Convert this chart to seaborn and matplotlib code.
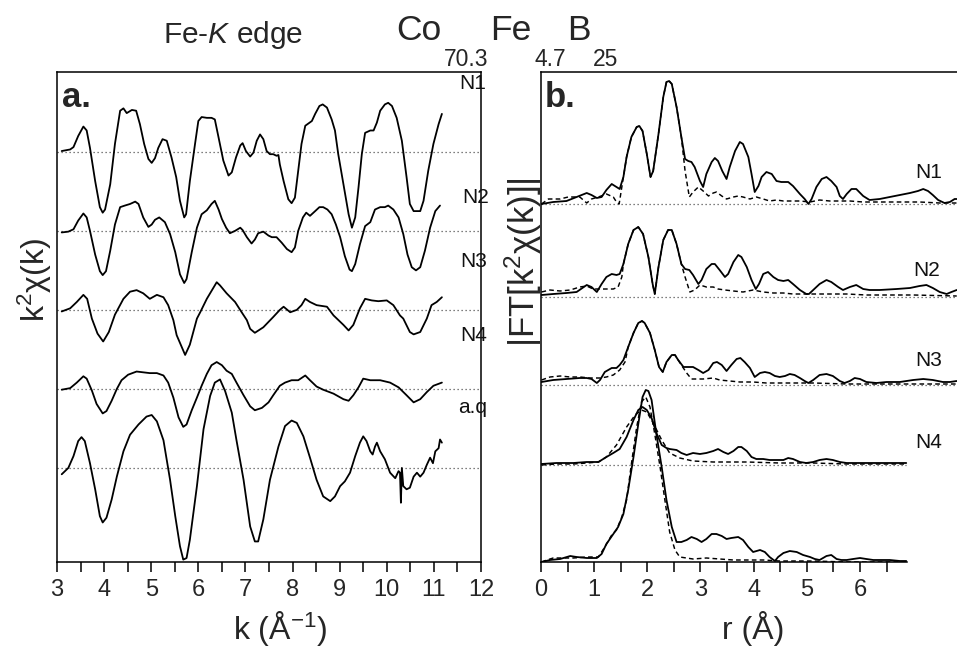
import numpy as np
import matplotlib
matplotlib.use("Agg")
import matplotlib.pyplot as plt
from matplotlib.ticker import MultipleLocator
import seaborn as sns

# ---------------- panel a: k^2 chi(k) spectra (k in 1/Angstrom, offset units) ----------------
CHI_N1 = [(3.10, 0.01), (3.28, 0.03), (3.35, 0.06), (3.45, 0.20), (3.56, 0.32), (3.63, 0.27), (3.70, 0.05),
          (3.81, -0.37), (3.91, -0.70), (3.97, -0.77), (4.02, -0.73), (4.13, -0.41), (4.23, 0.10), (4.34, 0.52),
          (4.41, 0.55), (4.48, 0.49), (4.59, 0.53), (4.68, 0.52), (4.76, 0.35), (4.85, 0.10), (4.94, -0.09),
          (5.01, -0.14), (5.08, -0.08), (5.15, 0.05), (5.24, 0.16), (5.33, 0.14), (5.43, -0.07), (5.53, -0.32),
          (5.61, -0.62), (5.70, -0.83), (5.74, -0.79), (5.82, -0.37), (5.93, 0.10), (6.00, 0.39), (6.07, 0.44),
          (6.18, 0.43), (6.28, 0.43), (6.35, 0.41), (6.43, 0.18), (6.53, -0.11), (6.64, -0.30), (6.71, -0.26),
          (6.80, -0.07), (6.89, 0.08), (6.94, 0.11), (7.01, 0.01), (7.10, -0.06), (7.17, -0.01), (7.24, 0.14),
          (7.31, 0.22), (7.38, 0.16), (7.45, 0.01), (7.52, -0.03), (7.59, -0.03), (7.66, -0.05), (7.70, -0.04),
          (7.73, -0.16), (7.81, -0.37), (7.91, -0.60), (7.98, -0.65), (8.05, -0.58), (8.12, -0.24), (8.19, 0.10),
          (8.27, 0.33), (8.34, 0.36), (8.41, 0.39), (8.48, 0.48), (8.57, 0.58), (8.64, 0.60), (8.73, 0.56),
          (8.83, 0.41), (8.90, 0.27), (8.97, -0.03), (9.08, -0.41), (9.19, -0.79), (9.26, -0.96), (9.33, -0.83),
          (9.40, -0.45), (9.47, -0.03), (9.54, 0.24), (9.65, 0.27), (9.72, 0.27), (9.79, 0.37), (9.86, 0.52),
          (9.96, 0.60), (10.03, 0.62), (10.11, 0.58), (10.21, 0.43), (10.32, 0.14), (10.42, -0.32), (10.49, -0.66),
          (10.57, -0.75), (10.71, -0.75), (10.78, -0.62), (10.88, -0.24), (10.99, 0.10), (11.10, 0.35), (11.17, 0.48)]

CHI_N2 = [(3.10, -0.02), (3.24, -0.01), (3.35, 0.02), (3.45, 0.13), (3.56, 0.22), (3.63, 0.17), (3.70, 0.00),
          (3.81, -0.30), (3.91, -0.51), (3.97, -0.56), (4.04, -0.51), (4.13, -0.25), (4.23, 0.08), (4.34, 0.30),
          (4.44, 0.32), (4.55, 0.34), (4.66, 0.37), (4.73, 0.34), (4.83, 0.17), (4.94, 0.05), (5.01, 0.08),
          (5.08, 0.14), (5.17, 0.17), (5.29, 0.11), (5.40, -0.04), (5.51, -0.27), (5.61, -0.55), (5.70, -0.66),
          (5.75, -0.61), (5.86, -0.27), (5.97, 0.04), (6.07, 0.21), (6.18, 0.26), (6.28, 0.34), (6.35, 0.38),
          (6.43, 0.27), (6.50, 0.15), (6.59, 0.04), (6.67, -0.03), (6.78, 0.00), (6.89, 0.04), (6.94, 0.01),
          (7.03, -0.08), (7.13, -0.16), (7.20, -0.11), (7.27, -0.03), (7.38, -0.01), (7.49, -0.06), (7.56, -0.08),
          (7.66, -0.08), (7.77, -0.15), (7.88, -0.23), (7.98, -0.27), (8.05, -0.21), (8.12, 0.00), (8.22, 0.17),
          (8.29, 0.23), (8.37, 0.19), (8.48, 0.25), (8.57, 0.30), (8.65, 0.30), (8.74, 0.27), (8.83, 0.21),
          (8.92, 0.08), (9.01, -0.08), (9.11, -0.32), (9.21, -0.49), (9.26, -0.51), (9.33, -0.42), (9.43, -0.17),
          (9.54, 0.06), (9.65, 0.11), (9.75, 0.27), (9.86, 0.30), (9.96, 0.30), (10.03, 0.32), (10.14, 0.27),
          (10.25, 0.17), (10.35, -0.04), (10.44, -0.30), (10.53, -0.46), (10.62, -0.50), (10.71, -0.46),
          (10.81, -0.25), (10.92, 0.04), (11.03, 0.25), (11.13, 0.32)]

CHI_N3 = [(3.10, -0.02), (3.28, 0.02), (3.42, 0.10), (3.56, 0.19), (3.64, 0.14), (3.74, -0.11), (3.86, -0.30),
          (3.98, -0.40), (4.10, -0.28), (4.23, -0.06), (4.41, 0.14), (4.55, 0.23), (4.69, 0.25), (4.83, 0.21),
          (4.97, 0.14), (5.12, 0.19), (5.26, 0.16), (5.36, 0.06), (5.47, -0.13), (5.54, -0.32), (5.72, -0.57),
          (5.82, -0.44), (5.97, -0.11), (6.04, -0.03), (6.18, 0.14), (6.39, 0.35), (6.46, 0.31), (6.60, 0.21),
          (6.78, 0.10), (6.92, -0.03), (7.03, -0.13), (7.10, -0.24), (7.20, -0.29), (7.38, -0.22), (7.59, -0.09),
          (7.73, 0.00), (7.81, 0.04), (7.95, -0.03), (8.09, 0.00), (8.19, 0.06), (8.27, 0.14), (8.37, 0.10),
          (8.51, 0.06), (8.73, 0.04), (8.87, -0.07), (8.94, -0.11), (9.08, -0.19), (9.19, -0.26), (9.29, -0.19),
          (9.43, 0.02), (9.54, 0.14), (9.68, 0.12), (9.82, 0.11), (10.00, 0.12), (10.14, 0.06), (10.28, -0.07),
          (10.35, -0.11), (10.49, -0.28), (10.57, -0.31), (10.71, -0.28), (10.85, -0.11), (10.95, 0.06),
          (11.06, 0.10), (11.17, 0.16)]

CHI_N4 = [(3.10, -0.01), (3.28, 0.01), (3.42, 0.08), (3.56, 0.16), (3.63, 0.13), (3.74, -0.02), (3.84, -0.19),
          (3.97, -0.31), (4.05, -0.28), (4.16, -0.15), (4.27, 0.00), (4.37, 0.11), (4.51, 0.18), (4.69, 0.22),
          (4.83, 0.21), (4.97, 0.20), (5.12, 0.20), (5.26, 0.17), (5.36, 0.08), (5.47, -0.11), (5.58, -0.36),
          (5.68, -0.48), (5.75, -0.45), (5.86, -0.27), (5.97, -0.11), (6.07, 0.04), (6.18, 0.19), (6.28, 0.30),
          (6.39, 0.34), (6.50, 0.30), (6.60, 0.23), (6.71, 0.19), (6.81, 0.08), (6.96, -0.08), (7.10, -0.22),
          (7.20, -0.27), (7.35, -0.24), (7.49, -0.17), (7.59, -0.08), (7.73, 0.04), (7.84, 0.08), (7.98, 0.11),
          (8.12, 0.11), (8.27, 0.17), (8.37, 0.11), (8.51, 0.03), (8.65, -0.01), (8.87, -0.06), (9.08, -0.13),
          (9.19, -0.15), (9.29, -0.08), (9.40, 0.02), (9.50, 0.13), (9.65, 0.11), (9.86, 0.11), (10.07, 0.08),
          (10.25, 0.02), (10.42, -0.08), (10.57, -0.17), (10.71, -0.13), (10.85, -0.04), (10.99, 0.04),
          (11.17, 0.08)]

CHI_AQ = [(3.10, -0.08), (3.24, 0.00), (3.35, 0.15), (3.45, 0.34), (3.52, 0.39), (3.59, 0.34), (3.70, 0.06),
          (3.81, -0.27), (3.91, -0.61), (3.97, -0.69), (4.05, -0.63), (4.16, -0.40), (4.27, -0.11), (4.41, 0.21),
          (4.55, 0.42), (4.73, 0.55), (4.90, 0.65), (5.01, 0.67), (5.12, 0.59), (5.26, 0.35), (5.40, -0.15),
          (5.51, -0.61), (5.61, -0.99), (5.68, -1.16), (5.75, -1.14), (5.82, -0.91), (5.97, -0.23), (6.11, 0.49),
          (6.25, 0.91), (6.35, 1.08), (6.46, 1.12), (6.57, 0.97), (6.71, 0.70), (6.81, 0.35), (6.96, -0.15),
          (7.10, -0.74), (7.20, -0.93), (7.27, -0.93), (7.38, -0.65), (7.52, -0.15), (7.70, 0.27), (7.84, 0.53),
          (7.98, 0.60), (8.09, 0.57), (8.23, 0.40), (8.37, 0.13), (8.51, -0.15), (8.65, -0.36), (8.80, -0.42),
          (8.90, -0.36), (9.01, -0.23), (9.11, -0.17), (9.22, -0.06), (9.33, 0.15), (9.43, 0.32), (9.50, 0.40),
          (9.57, 0.34), (9.65, 0.21), (9.70, 0.17), (9.75, 0.27), (9.79, 0.32), (9.86, 0.21), (9.96, 0.11),
          (10.07, -0.06), (10.18, -0.13), (10.25, -0.04), (10.28, -0.06), (10.30, -0.44), (10.32, 0.00),
          (10.35, -0.23), (10.42, -0.27), (10.49, -0.25), (10.57, -0.11), (10.64, -0.06), (10.71, -0.11),
          (10.78, -0.06), (10.85, 0.04), (10.92, 0.13), (10.98, 0.06), (11.03, 0.21), (11.10, 0.25),
          (11.13, 0.36), (11.17, 0.32)]

K_SERIES = ["N1", "N2", "N3", "N4", "a.q"]
K_OFFSETS = [4.0, 3.0, 2.0, 1.0, 0.0]
K_LABEL_POS = [(11.54, 4.87), (11.60, 3.42), (11.56, 2.61), (11.56, 1.68), (11.51, 0.76)]

# ---------------- panel b: |FT[k^2 chi(k)]| (r in Angstrom) ----------------
FT_N1 = [(0.01, 0.00), (0.23, 0.02), (0.48, 0.03), (0.67, 0.07), (0.86, 0.11), (0.95, 0.09), (1.05, 0.06),
         (1.14, 0.07), (1.23, 0.14), (1.33, 0.20), (1.42, 0.17), (1.48, 0.15), (1.55, 0.27), (1.61, 0.47),
         (1.70, 0.67), (1.80, 0.77), (1.85, 0.78), (1.91, 0.73), (1.99, 0.50), (2.06, 0.27), (2.11, 0.33),
         (2.21, 0.70), (2.30, 1.07), (2.36, 1.22), (2.41, 1.23), (2.46, 1.20), (2.55, 0.97), (2.64, 0.67),
         (2.71, 0.45), (2.77, 0.43), (2.83, 0.42), (2.89, 0.37), (2.99, 0.23), (3.05, 0.17), (3.11, 0.30),
         (3.21, 0.42), (3.27, 0.46), (3.33, 0.43), (3.41, 0.33), (3.49, 0.25), (3.55, 0.37), (3.65, 0.53),
         (3.74, 0.62), (3.80, 0.60), (3.90, 0.47), (3.96, 0.30), (4.02, 0.12), (4.09, 0.18), (4.15, 0.27),
         (4.24, 0.32), (4.34, 0.30), (4.43, 0.23), (4.52, 0.22), (4.65, 0.22), (4.74, 0.18), (4.87, 0.10),
         (4.96, 0.05), (5.03, 0.00), (5.09, 0.05), (5.18, 0.17), (5.28, 0.25), (5.37, 0.27), (5.46, 0.23),
         (5.56, 0.17), (5.62, 0.08), (5.68, 0.05), (5.75, 0.10), (5.84, 0.15), (5.93, 0.15), (6.06, 0.08),
         (6.18, 0.04), (6.37, 0.05), (6.56, 0.07), (6.75, 0.09), (6.94, 0.11), (7.09, 0.13), (7.19, 0.15),
         (7.28, 0.13), (7.37, 0.09), (7.47, 0.04), (7.59, 0.01), (7.69, 0.02), (7.78, 0.05), (7.82, 0.05)]
FIT_N1 = [(0.01, 0.00), (0.14, 0.05), (0.36, 0.05), (0.51, 0.07), (0.73, 0.07), (0.86, 0.01), (0.95, 0.05),
          (1.08, 0.07), (1.23, 0.10), (1.36, 0.07), (1.42, 0.02), (1.47, 0.00), (1.55, 0.27), (1.61, 0.47),
          (1.70, 0.67), (1.80, 0.77), (1.85, 0.78), (1.91, 0.73), (1.99, 0.50), (2.06, 0.27), (2.11, 0.33),
          (2.21, 0.70), (2.30, 1.07), (2.36, 1.22), (2.41, 1.23), (2.46, 1.20), (2.55, 0.97), (2.64, 0.67),
          (2.71, 0.33), (2.79, 0.07), (2.86, 0.12), (2.96, 0.17), (3.05, 0.13), (3.15, 0.08), (3.24, 0.11),
          (3.30, 0.12), (3.40, 0.08), (3.49, 0.05), (3.62, 0.07), (3.71, 0.08), (3.80, 0.07), (3.93, 0.05),
          (4.05, 0.07), (4.18, 0.05), (4.30, 0.03), (4.43, 0.04), (4.56, 0.03), (4.68, 0.03), (4.87, 0.03),
          (5.06, 0.02), (5.24, 0.04), (5.43, 0.03), (5.62, 0.03), (5.81, 0.03), (6.06, 0.02), (6.37, 0.02),
          (6.75, 0.02), (7.12, 0.02), (7.50, 0.01), (7.82, 0.01)]

FT_N2 = [(0.01, 0.02), (0.23, 0.03), (0.48, 0.04), (0.67, 0.05), (0.86, 0.12), (0.95, 0.10), (1.05, 0.05),
         (1.14, 0.13), (1.23, 0.20), (1.33, 0.23), (1.42, 0.22), (1.48, 0.23), (1.55, 0.33), (1.64, 0.53),
         (1.74, 0.67), (1.83, 0.70), (1.92, 0.63), (2.02, 0.40), (2.10, 0.13), (2.14, 0.03), (2.21, 0.30),
         (2.30, 0.57), (2.39, 0.67), (2.46, 0.67), (2.55, 0.53), (2.64, 0.33), (2.71, 0.28), (2.79, 0.27),
         (2.86, 0.22), (2.96, 0.13), (3.02, 0.17), (3.11, 0.28), (3.21, 0.33), (3.27, 0.33), (3.36, 0.27),
         (3.46, 0.20), (3.52, 0.23), (3.62, 0.35), (3.71, 0.42), (3.77, 0.40), (3.87, 0.30), (3.96, 0.17),
         (4.04, 0.08), (4.10, 0.13), (4.18, 0.23), (4.27, 0.25), (4.37, 0.20), (4.46, 0.17), (4.56, 0.16),
         (4.65, 0.17), (4.74, 0.13), (4.87, 0.07), (4.99, 0.03), (5.04, 0.03), (5.12, 0.07), (5.24, 0.13),
         (5.37, 0.17), (5.46, 0.15), (5.59, 0.10), (5.68, 0.07), (5.81, 0.10), (5.93, 0.12), (6.06, 0.08),
         (6.18, 0.07), (6.37, 0.07), (6.69, 0.08), (6.94, 0.09), (7.12, 0.11), (7.25, 0.12), (7.37, 0.09),
         (7.50, 0.05), (7.63, 0.03), (7.72, 0.05), (7.82, 0.07)]
FIT_N2 = [(0.01, 0.05), (0.17, 0.07), (0.36, 0.06), (0.55, 0.07), (0.73, 0.10), (0.86, 0.11), (0.98, 0.08),
          (1.11, 0.08), (1.23, 0.08), (1.36, 0.08), (1.45, 0.10), (1.52, 0.20), (1.55, 0.33), (1.64, 0.53),
          (1.74, 0.67), (1.83, 0.70), (1.92, 0.63), (2.02, 0.40), (2.10, 0.13), (2.14, 0.03), (2.21, 0.30),
          (2.30, 0.57), (2.39, 0.67), (2.46, 0.67), (2.55, 0.53), (2.64, 0.33), (2.71, 0.20), (2.80, 0.05),
          (2.89, 0.07), (2.99, 0.12), (3.11, 0.10), (3.24, 0.10), (3.33, 0.08), (3.46, 0.07), (3.62, 0.06),
          (3.80, 0.05), (3.99, 0.07), (4.18, 0.05), (4.37, 0.04), (4.56, 0.04), (4.74, 0.03), (4.93, 0.03),
          (5.12, 0.03), (5.37, 0.03), (5.75, 0.03), (6.12, 0.02), (6.50, 0.02), (7.00, 0.02), (7.82, 0.01)]

FT_N3 = [(0.01, 0.03), (0.23, 0.05), (0.48, 0.06), (0.73, 0.07), (0.86, 0.07), (0.95, 0.06), (1.05, 0.02),
         (1.11, 0.05), (1.20, 0.13), (1.33, 0.17), (1.42, 0.17), (1.48, 0.20), (1.55, 0.25), (1.64, 0.38),
         (1.74, 0.52), (1.83, 0.62), (1.90, 0.64), (1.95, 0.62), (2.05, 0.52), (2.14, 0.35), (2.22, 0.18),
         (2.29, 0.13), (2.36, 0.23), (2.46, 0.30), (2.52, 0.30), (2.58, 0.25), (2.68, 0.18), (2.77, 0.18),
         (2.86, 0.18), (2.96, 0.15), (3.05, 0.12), (3.15, 0.15), (3.24, 0.22), (3.31, 0.23), (3.40, 0.20),
         (3.49, 0.14), (3.58, 0.20), (3.68, 0.26), (3.75, 0.27), (3.83, 0.23), (3.93, 0.17), (4.02, 0.08),
         (4.12, 0.12), (4.21, 0.13), (4.30, 0.12), (4.40, 0.09), (4.49, 0.08), (4.59, 0.09), (4.68, 0.11),
         (4.77, 0.10), (4.87, 0.07), (4.96, 0.04), (5.03, 0.02), (5.12, 0.05), (5.24, 0.10), (5.37, 0.11),
         (5.49, 0.09), (5.62, 0.04), (5.71, 0.02), (5.81, 0.04), (5.90, 0.07), (6.00, 0.06), (6.12, 0.03),
         (6.31, 0.02), (6.50, 0.03), (6.75, 0.03), (7.00, 0.05), (7.19, 0.06), (7.37, 0.05), (7.56, 0.03),
         (7.69, 0.03), (7.82, 0.04)]
FIT_N3 = [(0.01, 0.05), (0.17, 0.08), (0.36, 0.09), (0.55, 0.08), (0.73, 0.08), (0.92, 0.07), (1.11, 0.07),
          (1.23, 0.08), (1.36, 0.10), (1.48, 0.15), (1.58, 0.23), (1.64, 0.38), (1.74, 0.52), (1.83, 0.62),
          (1.90, 0.64), (1.95, 0.62), (2.05, 0.52), (2.14, 0.35), (2.22, 0.18), (2.29, 0.13), (2.36, 0.23),
          (2.46, 0.30), (2.52, 0.30), (2.64, 0.20), (2.74, 0.12), (2.83, 0.06), (2.93, 0.06), (3.05, 0.06),
          (3.24, 0.07), (3.36, 0.05), (3.55, 0.04), (3.74, 0.03), (3.99, 0.03), (4.24, 0.02), (4.49, 0.02),
          (4.81, 0.02), (5.12, 0.02), (5.75, 0.01), (6.37, 0.01), (7.00, 0.01), (7.82, 0.01)]

FT_N4 = [(0.01, 0.01), (0.29, 0.02), (0.61, 0.02), (0.86, 0.03), (1.08, 0.03), (1.23, 0.08), (1.36, 0.12),
         (1.48, 0.16), (1.61, 0.28), (1.74, 0.45), (1.83, 0.55), (1.91, 0.58), (1.99, 0.55), (2.08, 0.47),
         (2.17, 0.32), (2.27, 0.20), (2.36, 0.17), (2.42, 0.16), (2.55, 0.15), (2.64, 0.12), (2.74, 0.10),
         (2.86, 0.12), (2.99, 0.11), (3.11, 0.12), (3.24, 0.14), (3.33, 0.16), (3.43, 0.13), (3.52, 0.11),
         (3.62, 0.14), (3.71, 0.18), (3.77, 0.18), (3.87, 0.14), (3.96, 0.08), (4.05, 0.06), (4.18, 0.06),
         (4.30, 0.05), (4.43, 0.05), (4.56, 0.05), (4.65, 0.07), (4.74, 0.06), (4.87, 0.03), (4.99, 0.02),
         (5.12, 0.03), (5.24, 0.05), (5.37, 0.06), (5.49, 0.05), (5.62, 0.03), (5.75, 0.02), (6.06, 0.02),
         (6.37, 0.02), (6.69, 0.02), (6.87, 0.02)]
FIT_N4 = [(0.01, 0.00), (0.29, 0.01), (0.61, 0.01), (0.86, 0.02), (1.08, 0.03), (1.23, 0.08), (1.42, 0.20),
          (1.61, 0.38), (1.77, 0.50), (1.89, 0.55), (1.99, 0.53), (2.11, 0.42), (2.27, 0.25), (2.42, 0.12),
          (2.61, 0.07), (2.86, 0.04), (3.24, 0.03), (3.87, 0.03), (4.49, 0.02), (5.12, 0.02), (5.75, 0.01),
          (6.87, 0.01)]

FT_AQ = [(0.01, 0.00), (0.17, 0.02), (0.36, 0.03), (0.55, 0.06), (0.67, 0.05), (0.86, 0.04), (1.05, 0.04),
         (1.14, 0.08), (1.23, 0.18), (1.36, 0.28), (1.45, 0.35), (1.55, 0.48), (1.64, 0.72), (1.74, 1.05),
         (1.83, 1.38), (1.91, 1.65), (1.97, 1.72), (2.02, 1.71), (2.08, 1.62), (2.17, 1.28), (2.27, 0.95),
         (2.36, 0.62), (2.46, 0.35), (2.55, 0.20), (2.64, 0.20), (2.74, 0.22), (2.83, 0.25), (2.93, 0.23),
         (3.02, 0.20), (3.11, 0.23), (3.21, 0.28), (3.30, 0.28), (3.40, 0.26), (3.49, 0.23), (3.58, 0.24),
         (3.71, 0.25), (3.80, 0.22), (3.90, 0.15), (3.99, 0.10), (4.12, 0.12), (4.21, 0.10), (4.30, 0.05),
         (4.40, 0.01), (4.46, 0.05), (4.56, 0.09), (4.68, 0.11), (4.81, 0.10), (4.93, 0.07), (5.06, 0.05),
         (5.15, 0.03), (5.24, 0.02), (5.37, 0.06), (5.46, 0.07), (5.56, 0.03), (5.65, 0.02), (5.75, 0.02),
         (5.87, 0.03), (6.00, 0.04), (6.12, 0.03), (6.25, 0.02), (6.37, 0.02), (6.56, 0.02), (6.75, 0.01),
         (6.87, 0.01)]
FIT_AQ = [(0.01, 0.00), (0.11, 0.02), (0.23, 0.04), (0.42, 0.04), (0.61, 0.04), (0.86, 0.05), (1.08, 0.05),
          (1.20, 0.15), (1.33, 0.27), (1.42, 0.32), (1.52, 0.45), (1.61, 0.62), (1.70, 0.98), (1.80, 1.35),
          (1.89, 1.60), (1.97, 1.65), (2.05, 1.55), (2.14, 1.28), (2.24, 0.95), (2.33, 0.62), (2.42, 0.30),
          (2.52, 0.12), (2.61, 0.05), (2.86, 0.03), (3.11, 0.04), (3.36, 0.03), (3.62, 0.02), (3.87, 0.02),
          (4.18, 0.02), (4.49, 0.01), (5.12, 0.01), (5.75, 0.00), (6.87, 0.00)]

R_SERIES = ["N1", "N2", "N3", "N4", ""]
R_OFFSETS = [3.58, 2.65, 1.77, 0.97, 0.0]
R_LABEL_POS = [(7.29, 3.89), (7.26, 2.92), (7.29, 2.01), (7.29, 1.20)]
R_AXIS_END = 6.88

K_TICKS = list(range(3, 13))
R_TICKS = list(range(0, 7))


def split(pts):
    x, y = zip(*pts)
    return np.asarray(x, float), np.asarray(y, float)


sns.set_theme(style="white")
plt.rcParams["font.family"] = ["Liberation Sans", "DejaVu Sans"]
plt.rcParams["mathtext.fontset"] = "custom"
plt.rcParams["mathtext.rm"] = "Liberation Sans"
plt.rcParams["mathtext.it"] = "Liberation Sans:italic"
plt.rcParams["mathtext.bf"] = "Liberation Sans:bold"

W, H = 957, 649
fig = plt.figure(figsize=(W / 100, H / 100), dpi=100)
fig.patch.set_facecolor("white")

ax_a = fig.add_axes([57 / W, 1 - 562 / H, 424 / W, 490 / H])
ax_b = fig.add_axes([541 / W, 1 - 562 / H, 420 / W, 490 / H])

LINE = dict(color="black", linewidth=1.3, estimator=None, sort=False, legend=False)
DOT = dict(color="#555555", linewidth=0.9, linestyle=(0, (1, 2.2)), zorder=0)

# panel a
for pts, off in zip([CHI_N1, CHI_N2, CHI_N3, CHI_N4, CHI_AQ], K_OFFSETS):
    k, chi = split(pts)
    ax_a.axhline(off, **DOT)
    sns.lineplot(x=k, y=chi + off, ax=ax_a, **LINE)
for name, (x, y) in zip(K_SERIES, K_LABEL_POS):
    ax_a.text(x, y, name, fontsize=15, ha="left", va="center", color="#111111", clip_on=False)

ax_a.set_xlim(3, 12)
ax_a.set_ylim(-1.19, 5.01)
ax_a.set_xticks(K_TICKS)
ax_a.xaxis.set_minor_locator(MultipleLocator(0.5))
ax_a.set_yticks([])
ax_a.set_xlabel("")
ax_a.set_ylabel("")

# panel b
for data, fit, off in zip([FT_N1, FT_N2, FT_N3, FT_N4, FT_AQ],
                          [FIT_N1, FIT_N2, FIT_N3, FIT_N4, FIT_AQ], R_OFFSETS):
    r, amp = split(data)
    rf, af = split(fit)
    end = r.max()
    ax_b.hlines(off, 0, end if end < 7.5 else 7.9, **DOT)
    sns.lineplot(x=rf, y=af + off, ax=ax_b, dashes=False, linestyle=(0, (3.2, 2.2)),
                 color="black", linewidth=1.05, estimator=None, sort=False, legend=False)
    sns.lineplot(x=r, y=amp + off, ax=ax_b, **LINE)
for name, (x, y) in zip(R_SERIES, R_LABEL_POS):
    ax_b.text(x, y, name, fontsize=15, ha="center", va="center", color="#111111")

ax_b.set_xlim(0, 7.9)
ax_b.set_ylim(0, 4.90)
ax_b.set_xticks(R_TICKS)
ax_b.set_xticks(np.arange(0.5, 7.0, 0.5), minor=True)
ax_b.set_yticks([])
ax_b.set_xlabel("")
ax_b.set_ylabel("")
ax_b.spines["right"].set_visible(False)
ax_b.spines["bottom"].set_bounds(0, R_AXIS_END)

for ax in (ax_a, ax_b):
    for sp in ax.spines.values():
        sp.set_color("black")
        sp.set_linewidth(1.1)
    ax.tick_params(axis="x", which="both", bottom=True, direction="out", length=7,
                   width=1.1, color="black", labelsize=17, pad=5)
    ax.set_facecolor("white")

ax_a.text(0.012, 0.929, "a.", transform=ax_a.transAxes, fontsize=25, fontweight="bold",
          ha="left", va="baseline")
ax_b.text(0.010, 0.929, "b.", transform=ax_b.transAxes, fontsize=25, fontweight="bold",
          ha="left", va="baseline")

# axis titles
fig.text(280 / W, 1 - 628 / H, r"k (Å$^{-1}$)", fontsize=23, ha="center", va="center")
fig.text(753 / W, 1 - 628 / H, "r (Å)", fontsize=23, ha="center", va="center")
fig.text(35 / W, 1 - 280 / H, r"k$^2$χ(k)", fontsize=23, ha="center", va="center", rotation=90)
fig.text(523 / W, 1 - 262 / H, r"|FT[k$^2$χ(k)]|", fontsize=25, ha="center", va="center", rotation=90)

# header
fig.text(233 / W, 1 - 43 / H, r"Fe-$\mathit{K}$ edge", fontsize=21.5, ha="center", va="baseline")
t_co = fig.text(396 / W, 1 - 40 / H, "Co", fontsize=25.5, ha="left", va="baseline")
t_s1 = plt.annotate("70.3", xy=(1, 0), xycoords=t_co, xytext=(2.0, -0.5), textcoords="offset points",
                    fontsize=16.5, ha="left", va="top", annotation_clip=False)
t_fe = plt.annotate("Fe", xy=(1, 0), xycoords=(t_s1, t_co), xytext=(1.5, 0), textcoords="offset points",
                    fontsize=25.5, ha="left", va="bottom", annotation_clip=False)
t_s2 = plt.annotate("4.7", xy=(1, 0), xycoords=t_fe, xytext=(1.5, -0.5), textcoords="offset points",
                    fontsize=16.5, ha="left", va="top", annotation_clip=False)
t_b = plt.annotate("B", xy=(1, 0), xycoords=(t_s2, t_co), xytext=(1.0, 0), textcoords="offset points",
                   fontsize=25.5, ha="left", va="bottom", annotation_clip=False)
plt.annotate("25", xy=(1, 0), xycoords=t_b, xytext=(1.5, -0.5), textcoords="offset points",
             fontsize=16.5, ha="left", va="top", annotation_clip=False)

fig.savefig("out.png", dpi=100, facecolor="white")
